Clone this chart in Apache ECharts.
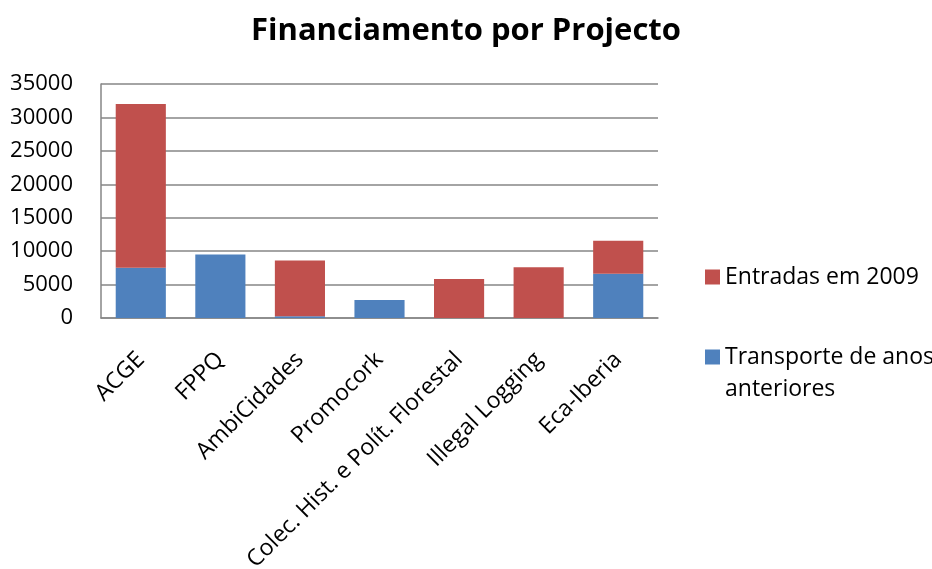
<!DOCTYPE html>
<html>
<head>
<meta charset="utf-8">
<script src="https://cdn.jsdelivr.net/npm/echarts@6/dist/echarts.min.js"></script>
<style>html,body{margin:0;padding:0;background:#fff}#c{width:932px;height:569px}</style>
</head>
<body>
<div id="c"></div>
<script>
const categories = ['ACGE', 'FPPQ', 'AmbiCidades', 'Promocork', 'Colec. Hist. e Polít. Florestal', 'Illegal Logging', 'Eca-Iberia'];
const transporte = [7500, 9500, 250, 2700, 0, 0, 6600];
const entradas = [24500, 0, 8350, 0, 5850, 7600, 4950];
const yTicks = { min: 0, max: 35000, interval: 5000 };
const titleText = 'Financiamento por Projecto';
const nameEntradas = 'Entradas em 2009';
const nameTransporte = 'Transporte de anos anteriores';

const FONT = '"Open Sans"';
const chart = echarts.init(document.getElementById('c'), null, { renderer: 'canvas' });
chart.setOption({
  animation: false,
  backgroundColor: '#fff',
  title: {
    text: titleText,
    left: 'center',
    top: 11,
    textStyle: { fontFamily: FONT, fontWeight: 'bold', fontSize: 31, color: '#000' }
  },
  legend: [
    {
      data: [nameEntradas],
      orient: 'vertical',
      left: 700, top: 256,
      itemWidth: 15, itemHeight: 15,
      icon: 'rect',
      textStyle: { fontFamily: FONT, fontSize: 23, color: '#000', lineHeight: 32 }
    },
    {
      data: [nameTransporte],
      orient: 'vertical',
      left: 700, top: 304,
      itemWidth: 15, itemHeight: 15,
      icon: 'rect',
      formatter: function () { return '\nTransporte de anos\nanteriores'; },
      textStyle: { fontFamily: FONT, fontSize: 23, color: '#000', lineHeight: 32 }
    }
  ],
  grid: { left: 101, right: 274, top: 84, bottom: 251, containLabel: false, outerBoundsMode: 'none' },
  xAxis: {
    type: 'category',
    data: categories,
    axisLine: { lineStyle: { color: '#868686', width: 1.5 } },
    axisTick: { show: false },
    axisLabel: { rotate: 45, interval: 0, margin: 38, fontFamily: FONT, fontSize: 23, color: '#000' }
  },
  yAxis: {
    type: 'value',
    min: yTicks.min, max: yTicks.max, interval: yTicks.interval,
    axisLine: { show: true, lineStyle: { color: '#868686', width: 1.5 } },
    axisTick: { show: false },
    splitLine: { lineStyle: { color: '#868686', width: 1.5 } },
    axisLabel: { fontFamily: FONT, fontSize: 22, color: '#000', margin: 28, formatter: function (v) { return String(v); } }
  },
  series: [
    {
      name: nameTransporte, type: 'bar', stack: 'total', data: transporte,
      barCategoryGap: '37%',
      itemStyle: { color: '#4F81BD' }
    },
    {
      name: nameEntradas, type: 'bar', stack: 'total', data: entradas,
      barCategoryGap: '37%',
      itemStyle: { color: '#C0504D' }
    }
  ]
});
</script>
</body>
</html>
